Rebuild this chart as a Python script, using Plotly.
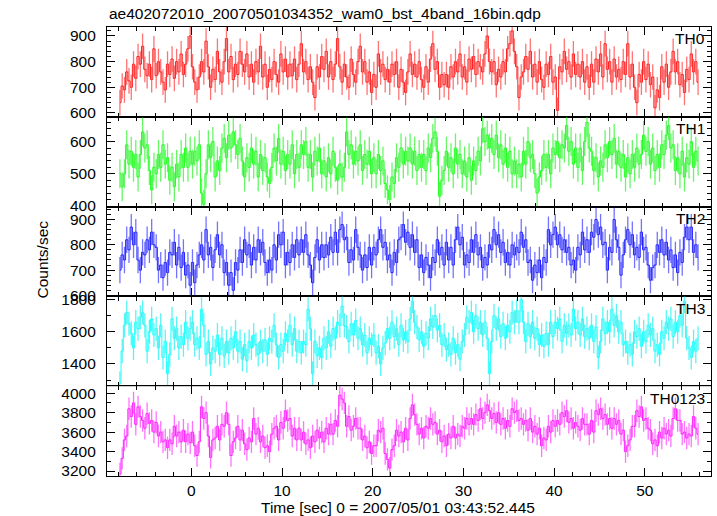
import numpy as np
import plotly.graph_objects as go

# ---------------- data (0.25 s bins, t = -8 .. 56 s) ----------------
th0 = [640, 705, 690, 760, 725, 700, 790, 735, 820, 790, 860, 770, 745, 790, 730, 850,
       745, 800, 760, 720, 690, 790, 750, 810, 735, 800, 760, 830, 750, 790, 850, 900,
       780, 720, 690, 740, 800, 760, 880, 780, 700, 770, 730, 840, 760, 720, 800, 890,
       760, 820, 730, 790, 750, 840, 790, 760, 830, 740, 790, 720, 800, 760, 860, 740,
       790, 700, 770, 730, 800, 750, 720, 830, 760, 810, 740, 790, 745, 810, 730, 790,
       870, 760, 800, 730, 780, 720, 660, 780, 740, 820, 770, 840, 740, 800, 730, 790,
       890, 780, 720, 790, 740, 700, 810, 750, 720, 800, 860, 760, 800, 720, 760, 680,
       750, 700, 830, 760, 790, 730, 770, 720, 790, 750, 800, 700, 770, 720, 680, 760,
       830, 750, 790, 740, 800, 730, 700, 780, 720, 810, 870, 770, 800, 700, 750, 710,
       750, 700, 780, 740, 800, 760, 830, 740, 780, 720, 810, 770, 820, 750, 800, 780,
       760, 830, 900, 800, 760, 800, 710, 770, 740, 800, 760, 850, 870, 920, 840, 780,
       660, 740, 760, 820, 770, 840, 740, 790, 720, 800, 730, 700, 790, 750, 820, 720,
       740, 610, 780, 760, 840, 770, 800, 740, 830, 750, 790, 740, 800, 720, 780, 700,
       790, 720, 810, 760, 830, 740, 870, 770, 800, 720, 810, 740, 770, 730, 800, 750,
       870, 740, 790, 700, 640, 750, 720, 800, 730, 790, 710, 740, 620, 690, 660, 780,
       720, 790, 700, 760, 840, 760, 800, 710, 750, 680, 770, 730, 830, 760, 800, 720]

th1 = [500, 460, 500, 590, 530, 570, 520, 560, 490, 560, 630, 580, 590, 510, 450, 520,
       500, 560, 520, 590, 530, 550, 480, 520, 460, 530, 490, 560, 520, 580, 520, 570,
       530, 570, 540, 590, 440, 405, 500, 590, 550, 600, 490, 540, 510, 580, 610, 550,
       620, 580, 630, 590, 560, 610, 540, 490, 550, 520, 580, 530, 570, 490, 560, 510,
       550, 490, 470, 520, 580, 540, 610, 530, 570, 510, 560, 530, 590, 500, 560, 520,
       590, 560, 600, 520, 560, 490, 570, 540, 580, 500, 540, 490, 550, 500, 570, 520,
       480, 530, 490, 520, 630, 560, 590, 530, 570, 540, 590, 510, 560, 530, 570, 500,
       550, 500, 560, 510, 540, 470, 450, 420, 490, 470, 550, 520, 580, 530, 570, 540,
       580, 530, 570, 510, 560, 520, 560, 510, 580, 550, 610, 630, 570, 430, 480, 510,
       570, 520, 550, 500, 580, 530, 560, 500, 540, 490, 550, 480, 540, 510, 570, 540,
       640, 600, 620, 580, 610, 560, 620, 550, 590, 530, 580, 520, 570, 500, 540, 500,
       530, 490, 570, 530, 600, 550, 560, 500, 440, 490, 510, 560, 520, 560, 500, 580,
       560, 600, 550, 590, 580, 650, 570, 600, 530, 580, 520, 580, 510, 600, 660, 580,
       570, 510, 550, 490, 540, 520, 590, 550, 600, 560, 610, 530, 570, 520, 560, 490,
       550, 500, 560, 520, 580, 530, 560, 620, 570, 600, 530, 580, 510, 560, 520, 590,
       560, 620, 650, 580, 590, 510, 550, 500, 570, 490, 550, 530, 600, 520, 570, 540]

th2 = [700, 760, 740, 820, 780, 870, 800, 850, 740, 700, 770, 760, 820, 780, 850, 800,
       790, 700, 720, 670, 730, 690, 770, 760, 810, 720, 790, 710, 770, 680, 720, 640,
       730, 650, 720, 760, 800, 740, 860, 760, 790, 710, 780, 840, 760, 800, 690, 730,
       640, 690, 620, 730, 700, 780, 730, 820, 760, 800, 720, 790, 740, 820, 770, 810,
       730, 690, 740, 700, 800, 740, 840, 800, 850, 720, 770, 730, 800, 750, 820, 760,
       820, 770, 840, 760, 720, 650, 750, 820, 740, 800, 750, 800, 760, 830, 770, 850,
       770, 860, 880, 820, 830, 730, 780, 740, 860, 790, 760, 700, 760, 710, 790, 720,
       790, 760, 820, 860, 790, 810, 740, 760, 690, 770, 730, 820, 830, 880, 810, 850,
       790, 840, 770, 820, 710, 760, 690, 750, 720, 670, 750, 730, 820, 760, 790, 720,
       810, 740, 790, 720, 820, 870, 800, 830, 720, 760, 730, 820, 770, 840, 760, 790,
       710, 750, 720, 800, 780, 860, 800, 840, 770, 810, 730, 770, 720, 800, 760, 790,
       770, 850, 790, 820, 730, 740, 660, 720, 690, 740, 670, 750, 730, 860, 800, 840,
       870, 800, 840, 780, 820, 770, 790, 720, 740, 700, 790, 760, 850, 780, 820, 770,
       850, 830, 900, 840, 870, 800, 810, 700, 790, 770, 900, 820, 790, 680, 760, 820,
       860, 800, 840, 760, 790, 750, 850, 780, 790, 720, 660, 710, 720, 800, 770, 820,
       760, 810, 740, 780, 710, 760, 690, 770, 730, 830, 870, 820, 870, 770, 800, 750]

th3 = [1280, 1480, 1640, 1720, 1650, 1590, 1500, 1660, 1620, 1690, 1720, 1640, 1480, 1600, 1680, 1580,
       1620, 1500, 1640, 1440, 1540, 1340, 1460, 1680, 1560, 1620, 1500, 1570, 1520, 1660, 1560, 1620,
       1660, 1520, 1560, 1500, 1740, 1640, 1460, 1540, 1400, 1500, 1480, 1580, 1460, 1560, 1450, 1540,
       1470, 1560, 1500, 1600, 1480, 1540, 1430, 1520, 1420, 1540, 1500, 1580, 1520, 1460, 1540, 1480,
       1550, 1460, 1560, 1540, 1640, 1520, 1440, 1520, 1480, 1590, 1540, 1640, 1520, 1620, 1480, 1540,
       1470, 1540, 1520, 1740, 1620, 1340, 1540, 1450, 1500, 1440, 1560, 1500, 1600, 1510, 1620, 1560,
       1660, 1640, 1760, 1640, 1630, 1540, 1650, 1580, 1670, 1560, 1620, 1520, 1580, 1470, 1560, 1520,
       1580, 1470, 1510, 1400, 1500, 1530, 1620, 1560, 1660, 1570, 1620, 1520, 1640, 1550, 1600, 1540,
       1680, 1790, 1660, 1630, 1550, 1600, 1510, 1590, 1560, 1680, 1630, 1700, 1610, 1640, 1520, 1580,
       1490, 1520, 1460, 1560, 1470, 1520, 1430, 1540, 1580, 1690, 1660, 1720, 1600, 1700, 1620, 1660,
       1580, 1660, 1560, 1340, 1540, 1700, 1620, 1680, 1570, 1650, 1560, 1640, 1600, 1720, 1660, 1730,
       1660, 1800, 1660, 1540, 1650, 1570, 1660, 1560, 1620, 1520, 1580, 1510, 1590, 1520, 1660, 1570,
       1660, 1620, 1680, 1540, 1640, 1590, 1640, 1580, 1740, 1620, 1660, 1580, 1680, 1570, 1620, 1560,
       1640, 1540, 1630, 1440, 1540, 1680, 1590, 1660, 1600, 1740, 1640, 1700, 1600, 1660, 1520, 1540,
       1470, 1520, 1460, 1600, 1570, 1620, 1510, 1600, 1540, 1640, 1580, 1620, 1480, 1520, 1460, 1600,
       1560, 1660, 1620, 1680, 1570, 1660, 1600, 1700, 1640, 1790, 1560, 1500, 1440, 1540, 1480, 1560]

th0123 = [3170, 3330, 3520, 3560, 3840, 3760, 3900, 3680, 3860, 3760, 3720, 3640, 3790, 3690, 3720, 3600,
          3700, 3560, 3600, 3500, 3520, 3440, 3520, 3480, 3660, 3560, 3600, 3500, 3620, 3500, 3580, 3490,
          3600, 3460, 3360, 3500, 3860, 3740, 3800, 3560, 3340, 3520, 3540, 3660, 3520, 3680, 3660, 3800,
          3680, 3360, 3500, 3540, 3660, 3520, 3620, 3480, 3420, 3540, 3500, 3740, 3580, 3640, 3500, 3560,
          3440, 3460, 3400, 3580, 3640, 3660, 3520, 3700, 3640, 3820, 3720, 3740, 3560, 3640, 3520, 3640,
          3520, 3600, 3480, 3520, 3440, 3560, 3500, 3620, 3540, 3600, 3500, 3640, 3580, 3680, 3580, 3720,
          3660, 3980, 3940, 3900, 3660, 3760, 3620, 3660, 3740, 3640, 3640, 3520, 3560, 3440, 3500, 3380,
          3460, 3460, 3620, 3600, 3640, 3380, 3320, 3230, 3420, 3460, 3620, 3560, 3600, 3500, 3640, 3520,
          3740, 3880, 3780, 3680, 3580, 3640, 3540, 3660, 3640, 3740, 3680, 3700, 3580, 3620, 3500, 3560,
          3460, 3580, 3540, 3660, 3540, 3580, 3560, 3660, 3640, 3740, 3680, 3740, 3680, 3780, 3720, 3840,
          3740, 3800, 3880, 3820, 3740, 3790, 3700, 3800, 3680, 3740, 3640, 3720, 3660, 3840, 3800, 3820,
          3720, 3740, 3680, 3720, 3620, 3740, 3600, 3660, 3580, 3640, 3460, 3540, 3520, 3660, 3600, 3720,
          3660, 3720, 3680, 3800, 3760, 3820, 3700, 3740, 3640, 3700, 3660, 3620, 3740, 3680, 3680, 3580,
          3720, 3600, 3820, 3780, 3840, 3740, 3780, 3680, 3740, 3640, 3740, 3680, 3720, 3580, 3620, 3400,
          3460, 3520, 3660, 3660, 3820, 3760, 3860, 3720, 3740, 3640, 3620, 3480, 3520, 3460, 3600, 3540,
          3640, 3580, 3620, 3560, 3740, 3840, 3720, 3720, 3580, 3600, 3540, 3580, 3560, 3760, 3640, 3580]

# typical 1-sigma error per band (counts/sec)
errors = [50, 45, 52, 75, 115]

names = ["TH0", "TH1", "TH2", "TH3", "TH0123"]
series = [th0, th1, th2, th3, th0123]
colors = ["#ff2020", "#20ff20", "#2020ff", "#20ffff", "#ff20ff"]
bar_colors = ["rgba(255,0,0,0.55)", "rgba(0,240,0,0.6)", "rgba(0,0,255,0.55)",
              "rgba(0,240,240,0.65)", "rgba(255,0,255,0.55)"]
y_ranges = [[585, 935], [398, 677], [596, 951], [1262, 1820], [3149, 4072]]
y_dticks = [100, 100, 100, 200, 200]
y_minor = [20, 20, 20, 100, 100]

t_start = -8.0
bin_w = 0.25
t = t_start + bin_w / 2 + bin_w * np.arange(len(th0))

FONT = "Liberation Sans, Arial, Helvetica, sans-serif"
FS = 15.5

fig = go.Figure()
n = len(series)
for i in range(n):
    xa = "x" if i == 0 else f"x{i+1}"
    ya = "y" if i == 0 else f"y{i+1}"
    fig.add_trace(go.Scatter(
        x=t, y=series[i], xaxis=xa, yaxis=ya, mode="markers",
        marker=dict(size=0.1, color=colors[i]),
        error_y=dict(type="constant", value=errors[i], width=0,
                     thickness=1.3, color=bar_colors[i]),
        showlegend=False, hoverinfo="skip"))
    fig.add_trace(go.Scatter(
        x=t, y=series[i], xaxis=xa, yaxis=ya, mode="lines",
        line=dict(color=colors[i], width=1, shape="hvh"),
        showlegend=False))

layout = dict(
    width=717, height=516,
    margin=dict(l=107, r=6, t=27, b=40),
    plot_bgcolor="white", paper_bgcolor="white",
    font=dict(family=FONT, size=FS, color="black"),
    annotations=[],
)

for i in range(n):
    xk = "xaxis" if i == 0 else f"xaxis{i+1}"
    yk = "yaxis" if i == 0 else f"yaxis{i+1}"
    ya = "y" if i == 0 else f"y{i+1}"
    top = 1.0 - 0.2 * i
    bot = top - 0.2
    layout[xk] = dict(
        domain=[0, 1], anchor=ya, range=[-9.3, 57.3],
        showgrid=False, zeroline=False,
        showline=True, linecolor="black", linewidth=1.2, mirror="allticks",
        ticks="inside", ticklen=8, tickcolor="black", tickwidth=1,
        dtick=10, tick0=0,
        minor=dict(dtick=2, ticks="inside", ticklen=4, tickcolor="black", showgrid=False),
        showticklabels=(i == n - 1),
        ticklabelstandoff=0,
        tickfont=dict(family=FONT, size=FS),
    )
    if i > 0:
        layout[xk]["matches"] = "x"
    layout[yk] = dict(
        domain=[max(bot, 0), top], anchor="x" if i == 0 else f"x{i+1}",
        range=y_ranges[i],
        showgrid=False, zeroline=False,
        showline=True, linecolor="black", linewidth=1.2, mirror="allticks",
        ticks="inside", ticklen=8, tickcolor="black", tickwidth=1,
        dtick=y_dticks[i], tick0=0,
        minor=dict(dtick=y_minor[i], ticks="inside", ticklen=4, tickcolor="black", showgrid=False),
        ticklabelstandoff=7,
        tickfont=dict(family=FONT, size=FS),
    )
    layout["annotations"].append(dict(
        text=names[i], xref="x domain" if i == 0 else f"x{i+1} domain",
        yref="y domain" if i == 0 else f"y{i+1} domain",
        x=0.993, y=0.985, xanchor="right", yanchor="top", showarrow=False,
        font=dict(family=FONT, size=FS, color="black")))

layout["annotations"] += [
    dict(text="ae402072010_20070501034352_wam0_bst_4band_16bin.qdp",
         xref="paper", yref="paper", x=0, y=1, xanchor="left", yanchor="bottom",
         yshift=3, showarrow=False, font=dict(family=FONT, size=FS, color="black")),
    dict(text="Counts/sec", xref="paper", yref="paper",
         x=(41.5 - 107) / 604, y=1 - (260 - 27) / 449, xanchor="center", yanchor="middle",
         textangle=-90, showarrow=False, font=dict(family=FONT, size=FS, color="black")),
    dict(text="Time [sec] 0 = 2007/05/01 03:43:52.445", xref="paper", yref="paper",
         x=(397.5 - 107) / 604, y=1 - (507 - 27) / 449, xanchor="center", yanchor="middle",
         showarrow=False, font=dict(family=FONT, size=FS, color="black")),
]

fig.update_layout(**layout)
fig.write_html("out.html", config={"displayModeBar": False},
               post_script="document.body.style.margin='0';document.body.style.padding='0';")
